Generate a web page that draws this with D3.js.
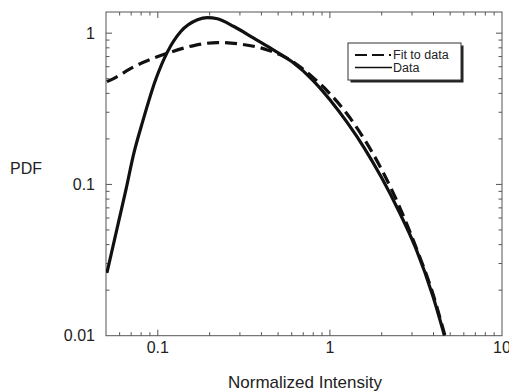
<!DOCTYPE html>
<html>
<head>
<meta charset="utf-8">
<script src="https://cdn.jsdelivr.net/npm/d3@7"></script>
<style>
  html, body { margin: 0; padding: 0; background: #fff; }
  svg { display: block; font-family: "Liberation Sans", Arial, Helvetica, sans-serif; }
</style>
</head>
<body>
<div id="chart"></div>
<script>
/* Measured curve: normalized intensity vs PDF */
const dataX = [0.0506, 0.0652, 0.0726, 0.0818, 0.097, 0.114, 0.136, 0.170, 0.194, 0.222, 0.277, 0.361, 0.452, 0.600, 0.794, 1.0, 1.259, 1.585, 1.995, 2.512, 3.162, 3.981, 4.63];
const dataY = [0.026, 0.0916, 0.161, 0.262, 0.49, 0.755, 1.025, 1.225, 1.268, 1.244, 1.106, 0.927, 0.796, 0.649, 0.490, 0.363, 0.257, 0.174, 0.111, 0.0668, 0.0376, 0.0180, 0.01];

/* Fit to data */
const fitX = [0.0506, 0.0534, 0.0729, 0.114, 0.162, 0.222, 0.303, 0.433, 0.516, 0.631, 0.794, 1.0, 1.259, 1.585, 1.995, 2.512, 3.162, 3.981, 4.65];
const fitY = [0.478, 0.491, 0.601, 0.737, 0.828, 0.867, 0.846, 0.775, 0.718, 0.630, 0.512, 0.398, 0.292, 0.199, 0.126, 0.073, 0.0385, 0.0187, 0.0101];

const xMajor = [0.1, 1, 10];
const xMajorLabels = ["0.1", "1", "10"];
const yMajor = [0.01, 0.1, 1];
const yMajorLabels = ["0.01", "0.1", "1"];
const legendLabels = ["Fit to data", "Data"];

const W = 509, H = 392;
const plot = { left: 106, right: 502, top: 12, bottom: 335.7 };

const svg = d3.select("#chart").append("svg")
  .attr("width", W).attr("height", H).attr("viewBox", `0 0 ${W} ${H}`);

const x = d3.scaleLog().domain([0.05, 10]).range([plot.left, plot.right]);
const y = d3.scaleLog().domain([0.01, 1.38]).range([plot.bottom, plot.top]);

const axisColor = "#555";
const inkColor = "#111";

svg.append("defs").append("clipPath").attr("id", "plot-clip")
  .append("rect")
  .attr("x", plot.left).attr("y", plot.top)
  .attr("width", plot.right - plot.left).attr("height", plot.bottom - plot.top);

/* ── Minor / major tick sets ─────────────────────────── */
const xMinor = [];
[0.01, 0.1, 1].forEach(d => { for (let k = 2; k <= 9; k++) xMinor.push(d * k); });
const xMinorIn = xMinor.filter(v => v > 0.05 && v < 10);
const yMinor = [];
[0.01, 0.1, 1].forEach(d => { for (let k = 2; k <= 9; k++) yMinor.push(d * k); });
const yMinorIn = yMinor.filter(v => v > 0.01 && v < 1.38);

/* ── Frame with inward ticks on all four sides ─────────── */
const frame = svg.append("g").attr("stroke", axisColor).attr("stroke-width", 1);

frame.append("rect")
  .attr("x", plot.left).attr("y", plot.top)
  .attr("width", plot.right - plot.left).attr("height", plot.bottom - plot.top)
  .attr("fill", "none");

const majorLen = 6, minorLen = 3.5;

function xTicks(vals, len) {
  vals.forEach(v => {
    frame.append("line").attr("x1", x(v)).attr("x2", x(v))
      .attr("y1", plot.bottom).attr("y2", plot.bottom - len);
    frame.append("line").attr("x1", x(v)).attr("x2", x(v))
      .attr("y1", plot.top).attr("y2", plot.top + len);
  });
}
function yTicks(vals, len) {
  vals.forEach(v => {
    frame.append("line").attr("y1", y(v)).attr("y2", y(v))
      .attr("x1", plot.left).attr("x2", plot.left + len);
    frame.append("line").attr("y1", y(v)).attr("y2", y(v))
      .attr("x1", plot.right).attr("x2", plot.right - len);
  });
}
xTicks(xMinorIn, minorLen);
xTicks(xMajor.filter(v => v < 10), majorLen);
yTicks(yMinorIn, minorLen);
yTicks(yMajor.filter(v => v > 0.01), majorLen);

/* ── Tick labels ───────────────────────────────────── */
svg.append("g").selectAll("text").data(xMajor).join("text")
  .attr("x", d => x(d)).attr("y", 353)
  .attr("text-anchor", "middle").attr("font-size", 16).attr("fill", "#222")
  .text((d, i) => xMajorLabels[i]);

svg.append("g").selectAll("text").data(yMajor).join("text")
  .attr("x", 95).attr("y", d => y(d)).attr("dy", "0.36em")
  .attr("text-anchor", "end").attr("font-size", 16).attr("fill", "#222")
  .text((d, i) => yMajorLabels[i]);

/* ── Axis titles ───────────────────────────────────── */
svg.append("text")
  .attr("x", 10).attr("y", 168).attr("dy", "0.36em")
  .attr("font-size", 16).attr("fill", "#222")
  .text("PDF");

svg.append("text")
  .attr("x", 305).attr("y", 388)
  .attr("text-anchor", "middle").attr("font-size", 17).attr("fill", "#222")
  .text("Normalized Intensity");

/* ── Curves ───────────────────────────────────────── */
const line = d3.line().x(d => x(d[0])).y(d => y(d[1])).curve(d3.curveMonotoneX);
const curves = svg.append("g").attr("clip-path", "url(#plot-clip)");

curves.append("path")
  .datum(fitX.map((v, i) => [v, fitY[i]]))
  .attr("d", line)
  .attr("fill", "none").attr("stroke", inkColor).attr("stroke-width", 3.2)
  .attr("stroke-dasharray", "12,6");

curves.append("path")
  .datum(dataX.map((v, i) => [v, dataY[i]]))
  .attr("d", line)
  .attr("fill", "none").attr("stroke", inkColor).attr("stroke-width", 3.2);

/* ── Legend with drop shadow ───────────────────────────── */
const lg = svg.append("g").attr("transform", "translate(348,43)");
lg.append("rect").attr("x", 2.5).attr("y", 2.5).attr("width", 113).attr("height", 37).attr("fill", "#222");
lg.append("rect").attr("x", 0).attr("y", 0).attr("width", 113).attr("height", 37)
  .attr("fill", "#fff").attr("stroke", "#333").attr("stroke-width", 1);

lg.append("line").attr("x1", 7).attr("x2", 43).attr("y1", 12).attr("y2", 12)
  .attr("stroke", inkColor).attr("stroke-width", 2.2).attr("stroke-dasharray", "12,5");
lg.append("line").attr("x1", 7).attr("x2", 44).attr("y1", 24.5).attr("y2", 24.5)
  .attr("stroke", inkColor).attr("stroke-width", 1.6);

lg.selectAll("text.lbl").data(legendLabels).join("text")
  .attr("class", "lbl")
  .attr("x", 45).attr("y", (d, i) => 16 + i * 12.5)
  .attr("font-size", 12.5).attr("fill", "#222")
  .text(d => d);
</script>
</body>
</html>
